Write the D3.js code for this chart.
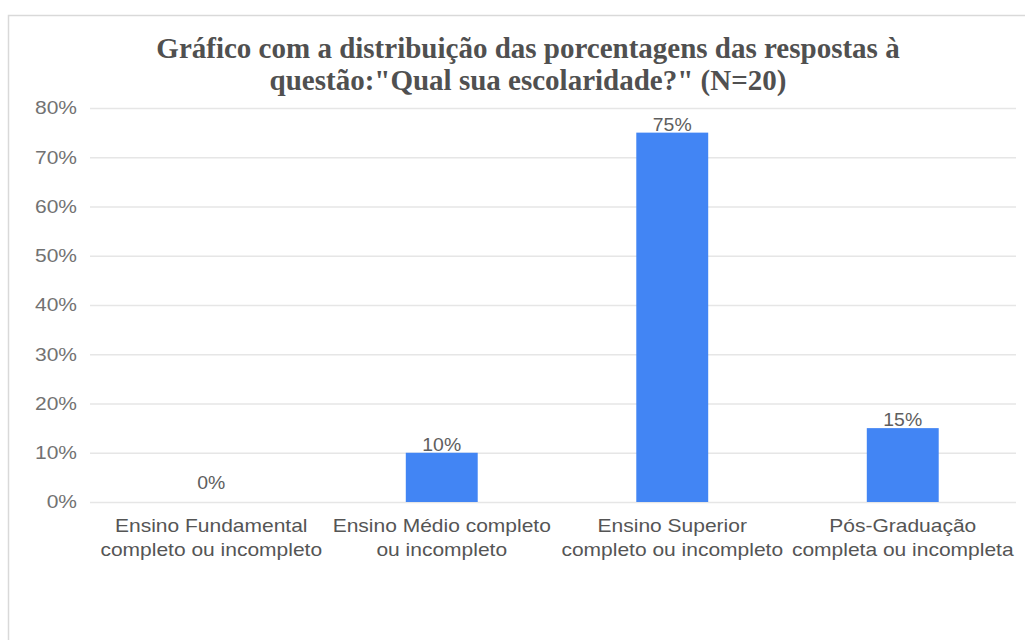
<!DOCTYPE html>
<html>
<head>
<meta charset="utf-8">
<script src="https://cdn.jsdelivr.net/npm/d3@7"></script>
<style>
html,body{margin:0;padding:0;background:#fff;}
svg{display:block;}
</style>
</head>
<body>
<svg id="chart" width="1025" height="640"></svg>
<script>
const categories = [
  ["Ensino Fundamental", "completo ou incompleto"],
  ["Ensino Médio completo", "ou incompleto"],
  ["Ensino Superior", "completo ou incompleto"],
  ["Pós-Graduação", "completa ou incompleta"]
];
const values = [0, 10, 75, 15];
const yTicks = [0, 10, 20, 30, 40, 50, 60, 70, 80];
const titleLines = [
  "Gráfico com a distribuição das porcentagens das respostas à",
  "questão:\"Qual sua escolaridade?\" (N=20)"
];

const svg = d3.select("#chart");
const W = 1025, H = 640;
const SANS = "'Liberation Sans', Arial, sans-serif";
const SX = 1.2; // horizontal stretch of the sans labels in the reference

// frame
svg.append("rect").attr("x", 8.5).attr("y", 15.5).attr("width", W + 20).attr("height", H + 20)
  .attr("fill", "#fff").attr("stroke", "#d9d9d9").attr("stroke-width", 1.5);

const keys = categories.map((c, i) => i);
const x = d3.scaleBand().domain(keys).range([96, 1018]).paddingInner(0.688).paddingOuter(0.344);
const y = d3.scaleLinear().domain([0, 80]).range([502, 108]);
const gridX0 = 90, gridX1 = 1016;

// title
const title = svg.append("text").attr("text-anchor", "middle")
  .attr("font-family", "'Liberation Serif', 'Times New Roman', serif")
  .attr("font-weight", "bold").attr("font-size", 29).attr("fill", "#505050");
titleLines.forEach((t, i) => {
  title.append("tspan").attr("x", 528).attr("y", 58 + i * 32).text(t);
});

// gridlines
const yAxis = d3.axisLeft(y).tickValues(yTicks).tickFormat("").tickSize(-(gridX1 - gridX0));
const gy = svg.append("g").attr("transform", `translate(${gridX0},0)`).call(yAxis);
gy.select(".domain").remove();
gy.selectAll(".tick line").attr("stroke", "#e6e6e6").attr("stroke-width", 1.3);

// y labels (stretched)
svg.append("g").selectAll("text").data(yTicks).join("text")
  .attr("transform", d => `translate(77,${y(d)}) scale(${SX},1)`)
  .attr("text-anchor", "end").attr("dy", "0.36em")
  .attr("font-family", SANS).attr("font-size", 17.5).attr("fill", "#727272")
  .text(d => d + "%");

// bars
svg.append("g").selectAll("rect").data(values).join("rect")
  .attr("x", (d, i) => x(i)).attr("width", x.bandwidth())
  .attr("y", d => y(d)).attr("height", d => y(0) - y(d))
  .attr("fill", "#4285f4");

// data labels
svg.append("g").selectAll("text").data(values).join("text")
  .attr("transform", (d, i) => `translate(${x(i) + x.bandwidth() / 2},${y(d) - (d === 0 ? 13 : 2)}) scale(1.05,1)`)
  .attr("text-anchor", "middle")
  .attr("font-family", SANS).attr("font-size", 18.5).attr("fill", "#5e5e5e")
  .text(d => d + "%");

// x labels (stretched)
const xg = svg.append("g").selectAll("g").data(categories).join("g")
  .attr("transform", (c, i) => `translate(${x(i) + x.bandwidth() / 2},0)`);
xg.each(function(c) {
  const g = d3.select(this);
  c.forEach((line, j) => {
    g.append("text").attr("transform", `translate(0,${532 + j * 24}) scale(${SX},1)`)
      .attr("text-anchor", "middle")
      .attr("font-family", SANS).attr("font-size", 17.5).attr("fill", "#555555")
      .text(line);
  });
});
</script>
</body>
</html>
